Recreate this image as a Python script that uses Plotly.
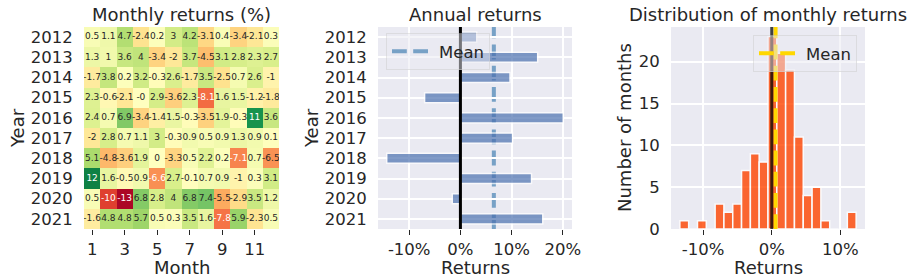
import numpy as np
import plotly.graph_objects as go
from plotly.colors import sample_colorscale

# ---------------- data ----------------
years = [2012, 2013, 2014, 2015, 2016, 2017, 2018, 2019, 2020, 2021]
months = [1, 2, 3, 4, 5, 6, 7, 8, 9, 10, 11, 12]
month_ticks = [1, 3, 5, 7, 9, 11]

m2012 = [0.5, 1.1, 4.7, -2.4, 0.2, 3.0, 4.2, -3.1, 0.4, -3.4, -2.1, 0.3]
m2013 = [1.3, 1.0, 3.6, 4.0, -3.4, -2.0, 3.7, -4.5, 3.1, 2.8, 2.3, 2.7]
m2014 = [-1.7, 3.8, 0.2, 3.2, -0.3, 2.6, -1.7, 3.5, -2.5, 0.7, 2.6, -1.0]
m2015 = [2.3, -0.6, -2.1, -0.0, 2.9, -3.6, 2.3, -8.1, 1.6, 1.5, -1.2, -1.8]
m2016 = [2.4, 0.7, 6.9, -3.4, -1.4, 1.5, -0.3, -3.5, 1.9, -0.3, 11.0, 3.6]
m2017 = [-2.0, 2.8, 0.7, 1.1, 3.0, -0.3, 0.9, 0.5, 0.9, 1.3, 0.9, 0.1]
m2018 = [5.1, -4.8, -3.6, 1.9, 0.0, -3.3, 0.5, 2.2, 0.2, -7.1, 0.7, -6.5]
m2019 = [12.0, 1.6, -0.5, 0.9, -6.6, 2.7, -0.1, 0.7, 0.9, -1.0, 0.3, 3.1]
m2020 = [0.5, -10.0, -13.0, 6.8, 2.8, 4.0, 6.8, 7.4, -5.5, -2.9, 3.5, 1.2]
m2021 = [-1.6, 4.8, 4.8, 5.7, 0.5, 0.3, 3.5, 1.6, -7.8, 5.9, -2.3, 0.5]
monthly = [m2012, m2013, m2014, m2015, m2016, m2017, m2018, m2019, m2020, m2021]

annual_returns = [3.2, 15.1, 9.7, -7.0, 20.1, 10.2, -14.4, 13.9, -1.6, 16.1]
annual_ticks = [-10, 0, 10, 20]
annual_ticktext = ["-10%", "0%", "10%", "20%"]

hist_counts = [1, 0, 1, 0, 3, 2, 3, 7, 9, 8, 23, 21, 19, 11, 4, 5, 1, 0, 0, 2]
hist_bin_start = -13.4
hist_bin_width = 1.285
hist_xticks = [-10, 0, 10]
hist_xticktext = ["-10%", "0%", "10%"]
hist_yticks = [0, 5, 10, 15, 20]

# ---------------- style ----------------
W, H = 916, 280
TXT = "#262626"
BG = "#EAEAF2"
FONT = "DejaVu Sans"
ZMIN, ZMAX = -13.4, 13.4

def px_x(a, b):
    return [a / W, b / W]

def px_y(top, bottom):
    return [1 - bottom / H, 1 - top / H]

TOP, BOT = 27, 229
dom_y = px_y(TOP, BOT)
dom_x1 = px_x(84, 279)
dom_x2 = px_x(378, 572)
dom_x3 = px_x(671, 865)

fig = go.Figure()

# ---- heatmap ----
z = np.array(monthly)
fig.add_trace(go.Heatmap(
    z=z, x=months, y=years, colorscale="RdYlGn", zmin=ZMIN, zmax=ZMAX,
    showscale=False, xaxis="x", yaxis="y", hoverinfo="skip"))

def rel_lum(rgb):
    out = []
    for c in rgb:
        c = c / 255.0
        out.append(c / 12.92 if c <= 0.03928 else ((c + 0.055) / 1.055) ** 2.4)
    return 0.2126 * out[0] + 0.7152 * out[1] + 0.0722 * out[2]

tx, ty, tt, tc = [], [], [], []
for yi, yr in enumerate(years):
    for mi, mo in enumerate(months):
        v = monthly[yi][mi]
        t = (v - ZMIN) / (ZMAX - ZMIN)
        col = sample_colorscale("RdYlGn", [t])[0]
        rgb = [float(s) for s in col[col.index("(") + 1:-1].split(",")]
        tx.append(mo)
        ty.append(yr)
        tt.append("{:.2g}".format(v))
        tc.append(TXT if rel_lum(rgb) > 0.408 else "white")
fig.add_trace(go.Scatter(
    x=tx, y=ty, text=tt, mode="text", textfont=dict(size=9, color=tc, family=FONT),
    xaxis="x", yaxis="y", showlegend=False, hoverinfo="skip"))

# ---- annual returns ----
year_labels = [str(y) for y in years]
ann_mean = float(np.mean(annual_returns))
DASH = "14.8px,6.4px"
fig.add_trace(go.Bar(
    x=annual_returns, y=year_labels, orientation="h", width=0.5,
    marker=dict(color="#4C72B0", line=dict(color="white", width=1.5)),
    opacity=0.7, xaxis="x2", yaxis="y2", showlegend=False))
fig.add_trace(go.Scatter(
    x=[ann_mean], y=[year_labels[0]], mode="lines", name="Mean",
    line=dict(color="rgba(70,130,180,0.7)", width=4, dash=DASH),
    xaxis="x2", yaxis="y2", legend="legend", hoverinfo="skip"))
fig.add_shape(type="line", xref="x2", yref="paper", x0=ann_mean, x1=ann_mean,
              y0=dom_y[0], y1=dom_y[1], layer="below",
              line=dict(color="rgba(70,130,180,0.7)", width=4, dash=DASH))
fig.add_shape(type="line", xref="x2", yref="paper", x0=0, x1=0,
              y0=dom_y[0], y1=dom_y[1],
              layer="above", line=dict(color="black", width=3))

# ---- distribution ----
edges = hist_bin_start + hist_bin_width * np.arange(len(hist_counts) + 1)
centers = (edges[:-1] + edges[1:]) / 2
monthly_mean = float(np.mean(z))
fig.add_trace(go.Bar(
    x=centers, y=hist_counts, width=hist_bin_width,
    marker=dict(color="#FF4500", line=dict(color="white", width=1.5)),
    opacity=0.8, xaxis="x3", yaxis="y3", showlegend=False))
fig.add_trace(go.Scatter(
    x=[monthly_mean], y=[0], mode="lines", name="Mean",
    line=dict(color="gold", width=4, dash=DASH),
    xaxis="x3", yaxis="y3", legend="legend2", hoverinfo="skip"))
fig.add_shape(type="line", xref="x3", yref="paper", x0=monthly_mean, x1=monthly_mean,
              y0=dom_y[0], y1=dom_y[1], layer="above",
              line=dict(color="gold", width=4, dash=DASH))
fig.add_shape(type="line", xref="x3", yref="paper", x0=0, x1=0,
              y0=dom_y[0], y1=dom_y[1],
              layer="above", line=dict(color="rgba(0,0,0,0.75)", width=3))

# ---- axes ----
TICK_SIZE = 16.5
tickfont = dict(family=FONT, size=TICK_SIZE, color=TXT)
common_x = dict(ticks="outside", ticklen=5, tickwidth=1.3, tickcolor=TXT,
                tickfont=tickfont, zeroline=False, showline=False, tickmode="array")
common_y = dict(ticks="outside", ticklen=7, tickcolor="rgba(0,0,0,0)",
                tickfont=tickfont, zeroline=False, showline=False, tickmode="array")
legend_style = dict(xanchor="left", yanchor="top", itemwidth=42,
                    bgcolor="rgba(234,234,242,0.5)", bordercolor="rgba(204,204,204,0.5)",
                    borderwidth=1, font=dict(family=FONT, size=16.5, color=TXT))

fig.update_layout(
    width=W, height=H, margin=dict(l=0, r=0, t=0, b=0, autoexpand=False),
    paper_bgcolor="white", plot_bgcolor=BG,
    font=dict(family=FONT, color=TXT, size=TICK_SIZE),
    barmode="overlay",
    xaxis=dict(domain=dom_x1, anchor="y", range=[0.5, 12.5], tickvals=month_ticks,
               ticktext=[str(m) for m in month_ticks], showgrid=False, **common_x),
    yaxis=dict(domain=dom_y, anchor="x", range=[2021.5, 2011.5], tickvals=years,
               ticktext=[str(y) for y in years], showgrid=False, **common_y),
    xaxis2=dict(domain=dom_x2, anchor="y2", range=[-16.1, 21.8], tickvals=annual_ticks,
                ticktext=annual_ticktext, showgrid=True, gridcolor="white", gridwidth=1.5,
                **common_x),
    yaxis2=dict(domain=dom_y, anchor="x2", type="category", categoryorder="array",
                categoryarray=year_labels, range=[9.5, -0.5], tickvals=year_labels,
                ticktext=year_labels, showgrid=True, gridcolor="white", gridwidth=1.5,
                **common_y),
    xaxis3=dict(domain=dom_x3, anchor="y3", range=[-14.69, 13.59], tickvals=hist_xticks,
                ticktext=hist_xticktext, showgrid=True, gridcolor="white", gridwidth=1.5,
                **common_x),
    yaxis3=dict(domain=dom_y, anchor="x3", range=[0, 24.15], tickvals=hist_yticks,
                ticktext=[str(v) for v in hist_yticks], showgrid=True, gridcolor="white",
                gridwidth=1.5, **common_y),
    legend=dict(x=386 / W, y=1 - 33 / H, **legend_style),
    legend2=dict(x=753 / W, y=1 - 35 / H, **legend_style),
)

# ---- titles and axis labels ----
def ann(text, x, y, angle=0, size=18):
    fig.add_annotation(text=text, x=x / W, y=1 - y / H,
                       xref="paper", yref="paper",
                       showarrow=False, textangle=angle, xanchor="center", yanchor="middle",
                       font=dict(family=FONT, size=size, color=TXT))

ann("Monthly returns (%)", 181.5, 14)
ann("Annual returns", 475, 14)
ann("Distribution of monthly returns", 768, 14)
ann("Month", 181.5, 267)
ann("Returns", 475, 267)
ann("Returns", 768, 267)
ann("Year", 18, 128, -90)
ann("Year", 312, 128, -90)
ann("Number of months", 625, 128, -90)

fig.write_html("out.html", config={"displayModeBar": False},
               post_script="document.body.style.margin='0';document.body.style.padding='0';")
